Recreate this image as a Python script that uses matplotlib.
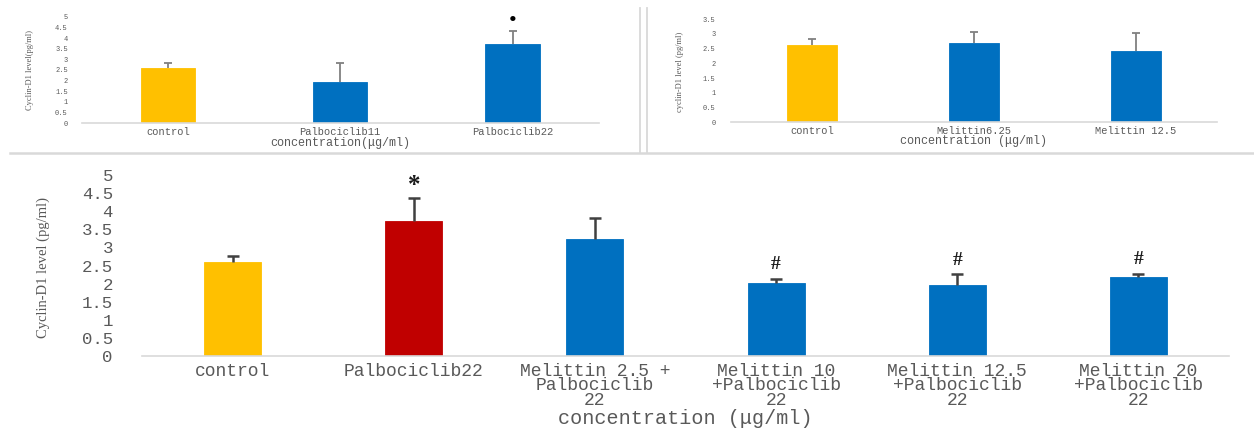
import matplotlib
matplotlib.use("Agg")
import matplotlib.pyplot as plt
from matplotlib.lines import Line2D
import numpy as np

# ---------------- data ----------------
tl_categories = ["control", "Palbociclib11", "Palbociclib22"]
tl_values = [2.60, 1.95, 3.73]
tl_err = [0.23, 0.90, 0.62]
tl_marks = ["", "", "\u2022"]
tl_colors = ["#FFC000", "#0070C0", "#0070C0"]

tr_categories = ["control", "Melittin6.25", "Melittin 12.5"]
tr_values = [2.62, 2.68, 2.43]
tr_err = [0.19, 0.38, 0.61]
tr_colors = ["#FFC000", "#0070C0", "#0070C0"]

bot_categories = ["control", "Palbociclib22", "Melittin 2.5 +\nPalbociclib\n22",
                  "Melittin 10\n+Palbociclib\n22", "Melittin 12.5\n+Palbociclib\n22",
                  "Melittin 20\n+Palbociclib\n22"]
bot_values = [2.60, 3.74, 3.22, 2.03, 1.96, 2.19]
bot_err = [0.17, 0.63, 0.60, 0.11, 0.30, 0.08]
bot_marks = ["", "*", "", "#", "#", "#"]
bot_colors = ["#FFC000", "#C00000", "#0070C0", "#0070C0", "#0070C0", "#0070C0"]

tl_yticks = np.arange(0, 5.01, 0.5)
tr_yticks = np.arange(0, 3.51, 0.5)
bot_yticks = np.arange(0, 5.01, 0.5)

MONO = "Liberation Mono"
SERIF = "Liberation Serif"
GRAY = "#595959"
AXIS = "#d9d9d9"

W, H = 1254, 428
fig = plt.figure(figsize=(W / 100, H / 100), dpi=100)
fig.patch.set_facecolor("white")


def fmt(v):
    s = ("%.1f" % v)
    return s[:-2] if s.endswith(".0") else s


def setup(ax, cats, vals, errs, colors, yticks, ylim, width, tick_fs, cat_fs,
          ytick_pad, cat_pad, ecolor, elw, capsize, linespacing=1.0):
    x = np.arange(len(cats))
    ax.bar(x, vals, width=width, color=colors, edgecolor=colors, linewidth=0.6, zorder=2)
    _, caps, _ = ax.errorbar(x, vals, yerr=[np.zeros(len(vals)), errs], fmt="none",
                             ecolor=ecolor, elinewidth=elw, capsize=capsize,
                             capthick=elw, zorder=3)
    if len(caps) == 2:
        caps[0].set_visible(False)
    ax.set_xlim(-0.5, len(cats) - 0.5)
    ax.set_ylim(*ylim)
    ax.set_yticks(yticks)
    ax.set_yticklabels([fmt(v) for v in yticks], fontfamily=MONO, fontsize=tick_fs, color=GRAY)
    ax.set_xticks(x)
    ax.set_xticklabels(cats, fontfamily=MONO, fontsize=cat_fs, color=GRAY,
                       linespacing=linespacing)
    ax.tick_params(axis="y", length=0, pad=ytick_pad)
    ax.tick_params(axis="x", length=0, pad=cat_pad)
    for s in ["top", "right", "left"]:
        ax.spines[s].set_visible(False)
    ax.spines["bottom"].set_color(AXIS)
    ax.spines["bottom"].set_linewidth(1.2)
    ax.set_facecolor("white")
    return x


def fx(px):
    return px / W


def fy(py):
    return 1 - py / H


# ---------------- top-left ----------------
ax1 = fig.add_axes([fx(81.7), fy(123.3), (598.7 - 81.7) / W, (123.3 - 16.7) / H])
x1 = setup(ax1, tl_categories, tl_values, tl_err, tl_colors, tl_yticks, (0, 5), 0.315,
           5, 7.5, 10, 3, "#808080", 1.3, 2.6)
ax1.set_xlabel("concentration(\u03bcg/ml)", fontfamily=MONO, fontsize=8.5, color=GRAY)
ax1.xaxis.set_label_coords(0.5, (123.3 - 142.7) / 106.6)
ax1.xaxis.label.set_va("center")
for xi, v, e, m in zip(x1, tl_values, tl_err, tl_marks):
    if m:
        ax1.annotate(m, (xi, v + e), xytext=(0, 9), textcoords="offset pixels",
                     ha="center", va="center", fontsize=16, color="black",
                     fontfamily=SERIF)
fig.text(fx(30), fy(70), "Cyclin-D1 level(pg/ml)", rotation=90, ha="center", va="center",
         fontfamily=SERIF, fontsize=6, color=GRAY)

# ---------------- top-right ----------------
ax2 = fig.add_axes([fx(731), fy(122.3), (1217 - 731) / W, (122.3 - 19) / H])
x2 = setup(ax2, tr_categories, tr_values, tr_err, tr_colors, tr_yticks, (0, 3.5), 0.31,
           5, 7.5, 11, 3, "#808080", 1.3, 2.6)
ax2.set_xlabel("concentration (\u03bcg/ml)", fontfamily=MONO, fontsize=8.5, color=GRAY)
ax2.xaxis.set_label_coords(0.5, (122.3 - 141) / 103.3)
ax2.xaxis.label.set_va("center")
fig.text(fx(680), fy(72), "cyclin-D1 level (pg/ml)", rotation=90, ha="center", va="center",
         fontfamily=SERIF, fontsize=6, color=GRAY)

# ---------------- bottom ----------------
ax3 = fig.add_axes([fx(142), fy(356), (1229 - 142) / W, (356 - 175) / H])
x3 = setup(ax3, bot_categories, bot_values, bot_err, bot_colors, bot_yticks, (0, 5), 0.315,
           12.5, 13, 21, 5, "#404040", 1.8, 4.3, linespacing=0.8)
ax3.set_xlabel("concentration (\u03bcg/ml)", fontfamily=MONO, fontsize=14.5, color=GRAY)
ax3.xaxis.set_label_coords(0.5, (356 - 418) / 181)
ax3.xaxis.label.set_va("center")
for xi, v, e, m in zip(x3, bot_values, bot_err, bot_marks):
    if m == "*":
        ax3.annotate(m, (xi, v + e), xytext=(0, 12), textcoords="offset pixels",
                     ha="center", va="center", fontsize=18, fontweight="bold",
                     color="#1a1a1a", fontfamily=SERIF)
    elif m:
        ax3.annotate(m, (xi, v + e), xytext=(0, 14), textcoords="offset pixels",
                     ha="center", va="center", fontsize=14, fontweight="bold",
                     color="#1a1a1a", fontfamily=SERIF)
fig.text(fx(43), fy(267), "Cyclin-D1 level (pg/ml)", rotation=90, ha="center", va="center",
         fontfamily=SERIF, fontsize=10.5, color=GRAY)

# ---------------- separators ----------------
for xp in (640, 647):
    fig.add_artist(Line2D([fx(xp), fx(xp)], [fy(8), fy(152)], color=AXIS, lw=1.3))
fig.add_artist(Line2D([fx(10), fx(1253)], [fy(153), fy(153)], color=AXIS, lw=1.8))

fig.savefig("out.png", dpi=100, facecolor="white")
